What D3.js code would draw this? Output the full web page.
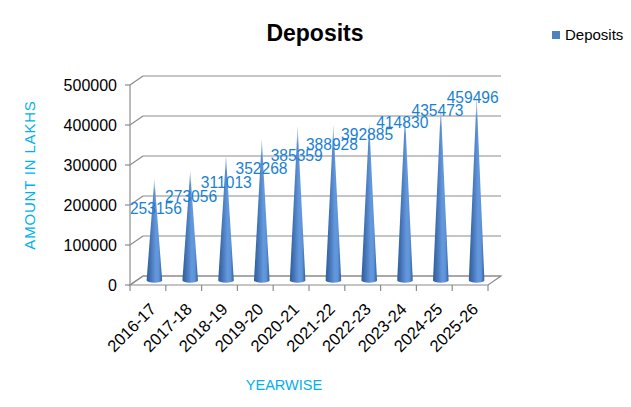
<!DOCTYPE html>
<html><head><meta charset="utf-8">
<script src="https://cdnjs.cloudflare.com/ajax/libs/d3/7.8.5/d3.min.js"></script>
<style>html,body{margin:0;padding:0;background:#fff;}svg{display:block;}</style>
</head><body>
<script>
const categories = ["2016-17","2017-18","2018-19","2019-20","2020-21","2021-22","2022-23","2023-24","2024-25","2025-26"];
const deposits = [253156,273056,311013,352268,385359,388928,392885,414830,435473,459496];
const yTicks = [0,100000,200000,300000,400000,500000];
const seriesName = "Deposits";
const titleText = "Deposits";
const yTitle = "AMOUNT IN LAKHS";
const xTitle = "YEARWISE";

const W = 631, H = 407;
const svg = d3.select("body").append("svg").attr("width", W).attr("height", H);
const font = "'Liberation Sans', Arial, sans-serif";

// front plane scales
const x = d3.scaleBand().domain(categories).range([130, 488]);
const y = d3.scaleLinear().domain([0, 500000]).range([285, 85]);
const depth = {dx: 13, dy: -9};
const gridColor = "#8c8c8c";

// gradient for cones
const defs = svg.append("defs");
const grad = defs.append("linearGradient").attr("id","cone").attr("x1","0").attr("x2","1").attr("y1","0").attr("y2","0");
[[0,"#2f5c99"],[0.25,"#4373b5"],[0.6,"#6498dd"],[0.78,"#6094d9"],[1,"#31609f"]].forEach(s=>grad.append("stop").attr("offset",s[0]).attr("stop-color",s[1]));
const tipGrad = defs.append("linearGradient").attr("id","tip").attr("x1","0").attr("x2","0").attr("y1","0").attr("y2","1");
[[0,"#ffffff",0.85],[0.12,"#ffffff",0.0],[1,"#ffffff",0]].forEach(s=>tipGrad.append("stop").attr("offset",s[0]).attr("stop-color",s[1]).attr("stop-opacity",s[2]));

// back wall gridlines & left wall diagonals
const g = svg.append("g");
yTicks.forEach(t => {
  const yf = y(t);
  g.append("line").attr("x1", x.range()[0]+depth.dx).attr("x2", x.range()[1]+depth.dx)
    .attr("y1", yf+depth.dy).attr("y2", yf+depth.dy).attr("stroke", gridColor).attr("stroke-width",1.2);
  g.append("line").attr("x1", x.range()[0]).attr("x2", x.range()[0]+depth.dx)
    .attr("y1", yf).attr("y2", yf+depth.dy).attr("stroke", gridColor).attr("stroke-width",1.2);
});
// floor
const x0 = x.range()[0], x1 = x.range()[1], yb = y(0);
g.append("path").attr("d", `M${x0},${yb}L${x1},${yb}L${x1+depth.dx},${yb+depth.dy}L${x0+depth.dx},${yb+depth.dy}Z`)
  .attr("fill","none").attr("stroke", gridColor).attr("stroke-width",1.2);
// y axis line & ticks
g.append("line").attr("x1",x0).attr("x2",x0).attr("y1",y(0)).attr("y2",y(500000)).attr("stroke",gridColor).attr("stroke-width",1.2);
yTicks.forEach(t=>{
  g.append("line").attr("x1",x0-5).attr("x2",x0).attr("y1",y(t)).attr("y2",y(t)).attr("stroke",gridColor).attr("stroke-width",1.2);
  svg.append("text").attr("x",117).attr("y",y(t)).attr("dy","0.36em").attr("text-anchor","end")
    .attr("font-family",font).attr("font-size",16).attr("fill","#000").text(t);
});
// x ticks
const bounds = categories.map(c=>x(c)).concat([x1]);
bounds.forEach(b=>{
  g.append("line").attr("x1",b).attr("x2",b).attr("y1",yb).attr("y2",yb+6).attr("stroke",gridColor).attr("stroke-width",1.2);
});

// cones (placed at mid-depth)
const ym = t => y(t) + depth.dy/2;
const cx = c => x(c) + x.bandwidth()/2 + depth.dx/2;
const r = 7.8, ry = 2.2;
categories.forEach((c,i)=>{
  const v = deposits[i];
  const bx = cx(c), by = ym(0), ty = ym(v);
  const d = `M${bx-r},${by}L${bx},${ty}L${bx+r},${by}A${r},${ry} 0 0 1 ${bx-r},${by}Z`;
  svg.append("path").attr("d", d).attr("fill","url(#cone)");
  svg.append("path").attr("d", `M${bx-r},${by}L${bx},${ty}L${bx+r},${by}Z`).attr("fill","url(#tip)");
});

// data labels
const labelYv = d3.scaleLinear().domain([0,100000]).range([238.0, 228.39]);
const labelYi = d3.scaleLinear().domain([0,1]).range([0,-10.04]);
categories.forEach((c,i)=>{
  svg.append("text").attr("x", cx(c)+1.5-0.6*i).attr("y", labelYv(deposits[i]) + labelYi(i))
    .attr("text-anchor","middle").attr("font-family",font).attr("font-size",15.6)
    .attr("fill","#1b7fd4").text(deposits[i]);
});

// x labels
categories.forEach(c=>{
  const px = x(c)+x.bandwidth()/2+1, py = 302;
  svg.append("text").attr("transform",`translate(${px},${py}) rotate(-45)`)
    .attr("text-anchor","end").attr("dy","0.7em").attr("font-family",font).attr("font-size",16.5)
    .attr("fill","#000").text(c);
});

// titles
svg.append("text").attr("x",315).attr("y",41).attr("text-anchor","middle").attr("font-family",font)
  .attr("font-weight","bold").attr("font-size",23).attr("fill","#000").text(titleText);
svg.append("text").attr("transform","translate(35,175) rotate(-90)").attr("text-anchor","middle")
  .attr("font-family",font).attr("font-size",15).attr("letter-spacing",0.8).attr("fill","#00b0f0").text(yTitle);
svg.append("text").attr("x",284).attr("y",390).attr("text-anchor","middle").attr("font-family",font)
  .attr("font-size",14.5).attr("fill","#00b0f0").text(xTitle);

// legend
svg.append("rect").attr("x",552).attr("y",31).attr("width",8).attr("height",8).attr("fill","#4f81bd");
svg.append("text").attr("x",565).attr("y",39.5).attr("font-family",font).attr("font-size",15).attr("fill","#000").text(seriesName);
</script>
</body></html>
